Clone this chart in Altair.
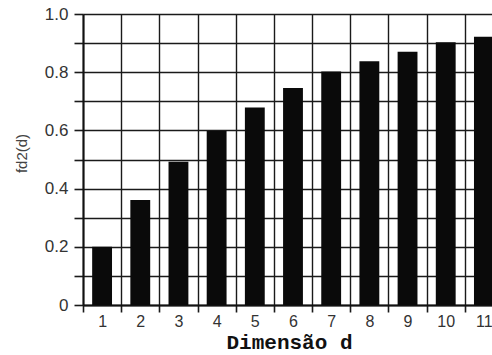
import altair as alt
import pandas as pd

dims = [1, 2, 3, 4, 5, 6, 7, 8, 9, 10, 11]
fd2 = [0.200, 0.361, 0.492, 0.598, 0.679, 0.746, 0.802, 0.838, 0.870, 0.903, 0.922]

df = pd.DataFrame({"d": dims, "fd2": fd2})

y_ticks = [0.0, 0.1, 0.2, 0.3, 0.4, 0.5, 0.6, 0.7, 0.8, 0.9, 1.0]

chart = alt.Chart(df).mark_bar(color="#0a0a0a", width=alt.RelativeBandSize(0.52)).encode(
    x=alt.X(
        "d:O",
        scale=alt.Scale(paddingInner=0, paddingOuter=0, range=[0, 420]),
        axis=alt.Axis(
            title="Dimensão d",
            labelAngle=0,
            tickBand="extent",
            grid=True,
            gridColor="#1a1a1a",
            gridWidth=1.4,
            gridOpacity=1,
            ticks=True,
            tickSize=7,
            tickColor="#1a1a1a",
            tickWidth=1.6,
            domainColor="#111111",
            domainWidth=2,
            labelFont="Liberation Sans",
            labelFontSize=16,
            labelColor="#333333",
            labelPadding=1,
            titleFont="Liberation Mono",
            titleFontWeight="bold",
            titleFontSize=21,
            titleColor="#111111",
            titlePadding=2,
            titleX=206,
        ),
    ),
    y=alt.Y(
        "fd2:Q",
        scale=alt.Scale(domain=[0, 1], nice=False),
        axis=alt.Axis(
            title="fd2(d)",
            values=y_ticks,
            labelExpr="datum.value == 0 ? '0' : (round(datum.value * 10) % 2 == 0 ? format(datum.value, '.1f') : '')",
            grid=True,
            gridColor="#1a1a1a",
            gridWidth=1.5,
            gridOpacity=1,
            tickSize=9,
            tickColor="#1a1a1a",
            tickWidth=1.6,
            domainColor="#111111",
            domainWidth=2,
            labelFont="Liberation Sans",
            labelFontSize=17,
            labelColor="#333333",
            labelPadding=6,
            labelOverlap=False,
            titleFont="Liberation Sans",
            titleFontWeight="normal",
            titleFontSize=15,
            titleColor="#444444",
            titlePadding=15,
            titleY=139,
        ),
    ),
).properties(
    width=409,
    height=291,
    autosize=alt.AutoSizeParams(type="none"),
    padding={"left": 83, "top": 14, "right": 0, "bottom": 50},
    background="white",
).configure_view(stroke=None)

chart.save("out.html", embed_options={"renderer": "svg", "actions": False})
